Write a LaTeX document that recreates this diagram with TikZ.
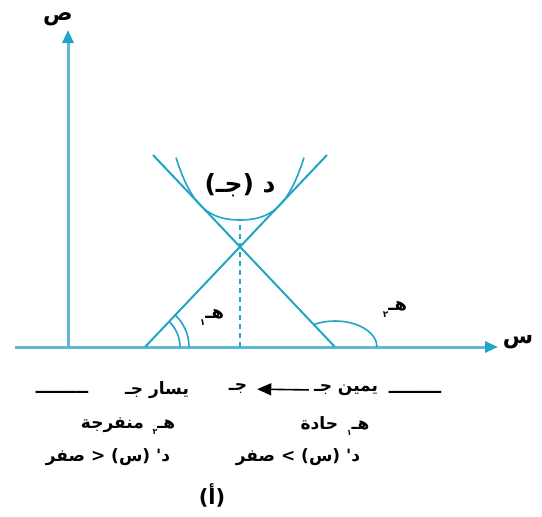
\documentclass[tikz,border=0pt]{standalone}
\usepackage{fontspec}
\newfontfamily\arabicfont[Script=Arabic]{DejaVu Sans}
\TeXXeTstate=1
\usetikzlibrary{arrows.meta}
\definecolor{axiscol}{RGB}{95,185,208}
\definecolor{linecol}{RGB}{30,166,198}
\tikzset{axis/.style={draw=axiscol, line width=3pt, -{Triangle[length=13pt,width=11pt,color=linecol]}}}
\tikzset{tline/.style={draw=linecol, line width=2pt}}
\tikzset{anglearc/.style={draw=linecol, line width=1.6pt}}
\tikzset{lbl/.style={inner sep=0pt, font=\arabicfont\bfseries\fontsize{18}{20}\selectfont}}
\tikzset{txt/.style={inner sep=0pt, font=\arabicfont\bfseries\fontsize{17}{19}\selectfont}}

\begin{document}
\begin{tikzpicture}[x=1pt,y=-1pt]
\useasboundingbox (0,0) rectangle (542,517);
% axes
\coordinate (o) at (68,347);
\coordinate (ytop) at (68,30);
\coordinate (xl) at (15,347);
\coordinate (xr) at (498,347);
\draw[axis] (o) -- (ytop);
\draw[axis] (xl) -- (xr);
\node[lbl, font=\arabicfont\bfseries\fontsize{22}{24}\selectfont, anchor=base] (ylbl) at (58,20) {\beginR ص\endR};
\node[lbl, font=\arabicfont\bfseries\fontsize{22}{24}\selectfont] (xlbl) at (518,342) {\beginR س\endR};
% tangent lines crossing at c
\coordinate (lb) at (145,347);
\coordinate (rb) at (335,347);
\coordinate (lt) at (153,155);
\coordinate (rt) at (327,155);
\draw[tline] (lb) -- (rt);
\draw[tline] (rb) -- (lt);
% the curve
\draw[tline, line width=1.6pt] plot[domain=-64:64, samples=65, smooth]
  ({240+\x},{220-0.00571*\x*\x-0.0233*(\x/10)*(\x/10)*(\x/10)*(\x/10)});
\coordinate (c) at (240,347);
\coordinate (vtx) at (240,220);
\draw[draw=linecol, line width=1.2pt, dash pattern=on 5pt off 4pt] (c) -- (vtx);
\node[lbl, font=\arabicfont\bfseries\fontsize{25}{27}\selectfont] (fc) at (240,185) {\beginR د (جـ)\endR};
% angles
\draw[anglearc] ([xshift=35pt]lb) arc[start angle=0, end angle=46.5, radius=35pt];
\draw[anglearc] ([xshift=44pt]lb) arc[start angle=0, end angle=46.5, radius=44pt];
\draw[anglearc] ([xshift=42pt]rb) arc[start angle=0, end angle=120.5, x radius=42pt, y radius=26pt];
\node[lbl] (h1) at (212,317) {\beginR هـ\raisebox{-0.7ex}{\small ١}\endR};
\node[lbl] (h2) at (395,309) {\beginR هـ\raisebox{-0.7ex}{\small ٢}\endR};
% text below
\node[txt] (dl) at (62,392) {ـــــــــ};
\node[txt] (lft) at (157,390) {\beginR يسار جـ\endR};
\node[txt] (mid) at (238,389) {\beginR جـ\endR};
\node[txt] (rgt) at (346,390) {\beginR يمين جـ\endR};
\node[txt] (dr) at (415,392) {ـــــــــ};
\draw[line width=1.6pt, -{Triangle[length=14pt,width=12pt]}, shorten <=5pt, shorten >=10pt] (rgt.west) -- (mid.east);
\node[txt] (obt) at (128,426) {\beginR هـ\raisebox{-0.7ex}{\footnotesize ٢}\, منفرجة\endR};
\node[txt] (acu) at (335,426) {\beginR هـ\raisebox{-0.7ex}{\footnotesize ١}\, حادة\endR};
\node[txt] (neg) at (108,457) {\beginR د' (س) < صفر\endR};
\node[txt] (pos) at (298,457) {\beginR د' (س) > صفر\endR};
\node[txt, font=\arabicfont\bfseries\fontsize{21}{23}\selectfont] (fig) at (212,495) {\beginR (أ)\endR};
\end{tikzpicture}
\end{document}
